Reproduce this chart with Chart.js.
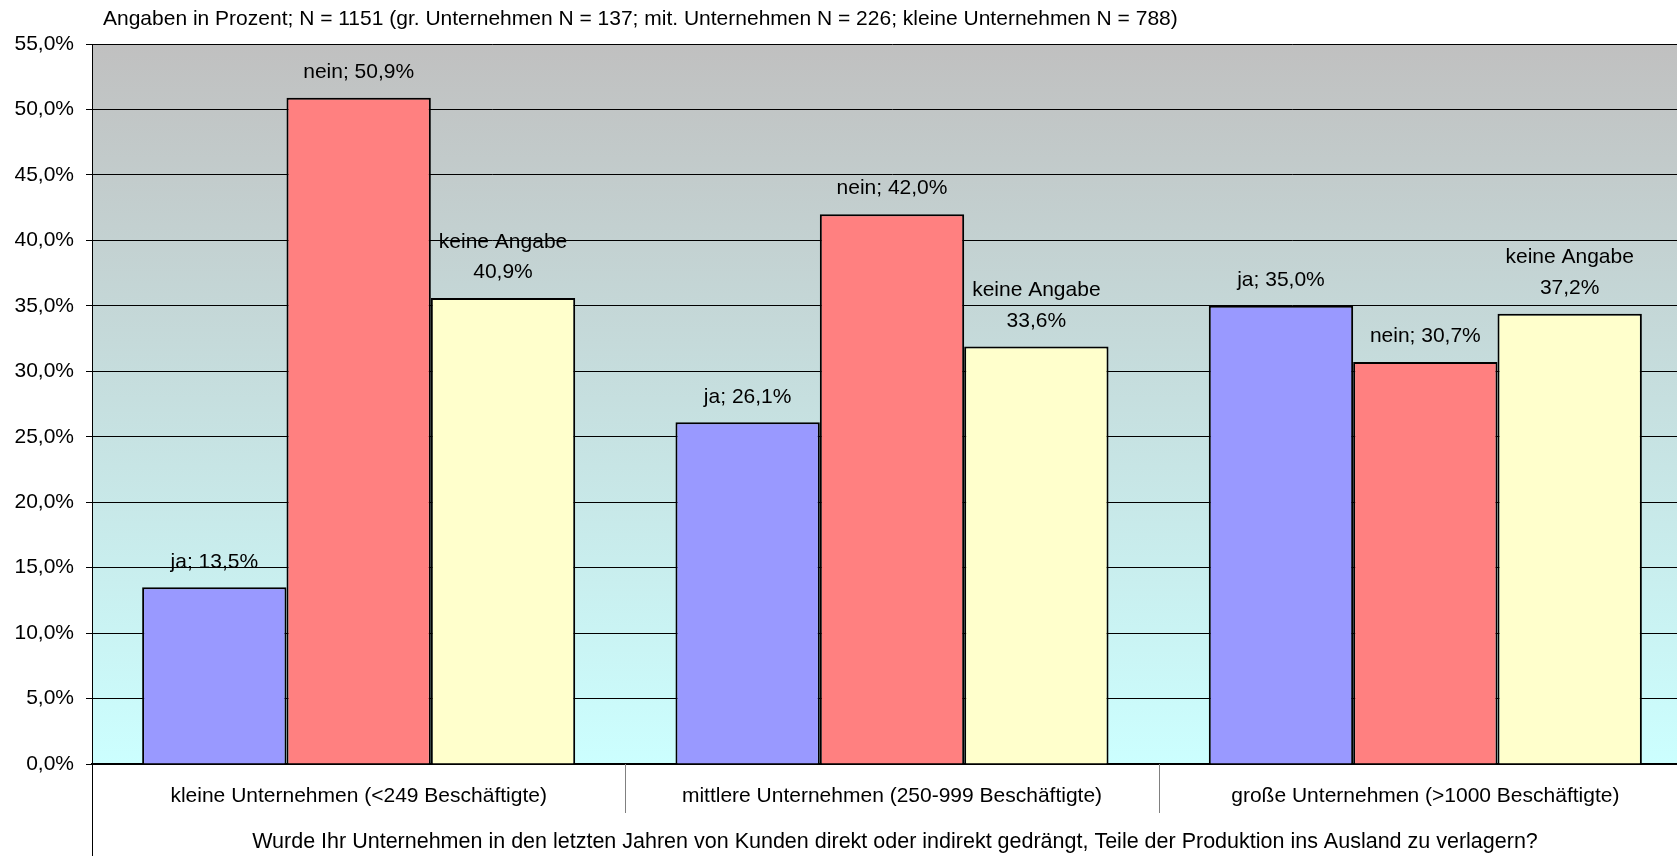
<!DOCTYPE html>
<html>
<head>
<meta charset="utf-8">
<script src="https://cdn.jsdelivr.net/npm/chart.js@4/dist/chart.umd.min.js"></script>
<style>
  html, body { margin: 0; padding: 0; background: #ffffff; overflow: hidden; width: 1677px; height: 856px; }
  canvas { display: block; }
</style>
</head>
<body>
<canvas id="c" width="1692" height="856"></canvas>
<script>
// ---- data ----
const categories = [
  'kleine Unternehmen (<249 Beschäftigte)',
  'mittlere Unternehmen (250-999 Beschäftigte)',
  'große Unternehmen (>1000 Beschäftigte)'
];
const seriesNames = ['ja', 'nein', 'keine Angabe'];
// bar heights as drawn
const jaValues = [13.5, 26.1, 35.0];
const neinValues = [50.9, 42.0, 30.7];
const keineValues = [35.6, 31.9, 34.4];
// values printed in the labels
const jaLabelValues = [13.5, 26.1, 35.0];
const neinLabelValues = [50.9, 42.0, 30.7];
const keineLabelValues = [40.9, 33.6, 37.2];
const yTicks = [0, 5, 10, 15, 20, 25, 30, 35, 40, 45, 50, 55];
const topText = 'Angaben in Prozent; N = 1151 (gr. Unternehmen N = 137; mit. Unternehmen N = 226; kleine Unternehmen N = 788)';
const xTitle = 'Wurde Ihr Unternehmen in den letzten Jahren von Kunden direkt oder indirekt gedrängt, Teile der Produktion ins Ausland zu verlagern?';

const FONT = '"Liberation Sans", Arial, sans-serif';
const fmt = v => v.toFixed(1).replace('.', ',') + '%';

const labelSets = [jaLabelValues, neinLabelValues, keineLabelValues];

const bgPlugin = {
  id: 'bg',
  beforeDraw(chart) {
    const { ctx, chartArea: a } = chart;
    ctx.save();
    const g = ctx.createLinearGradient(0, a.top, 0, a.bottom);
    g.addColorStop(0, '#C0C0C0');
    g.addColorStop(1, '#CCFFFF');
    ctx.fillStyle = g;
    ctx.fillRect(a.left, a.top, a.right - a.left, a.bottom - a.top);
    ctx.restore();
  },
  afterDraw(chart) {
    const { ctx, chartArea: a, scales } = chart;
    ctx.save();
    // top text
    ctx.fillStyle = '#000';
    ctx.font = '21px ' + FONT;
    ctx.textAlign = 'left';
    ctx.textBaseline = 'middle';
    ctx.fillText(topText, 103, 19);
    // x title
    ctx.textAlign = 'center';
    ctx.font = '21.5px ' + FONT;
    ctx.fillText(xTitle, 895, 842);
    // separators in label area
    const x = scales.x;
    ctx.strokeStyle = '#808080';
    ctx.lineWidth = 1;
    for (let i = 1; i < categories.length; i++) {
      const px = Math.round((x.getPixelForValue(i - 1) + x.getPixelForValue(i)) / 2) + 0.5;
      ctx.beginPath();
      ctx.moveTo(px, a.bottom);
      ctx.lineTo(px, a.bottom + 49);
      ctx.stroke();
    }
    // left long line
    ctx.strokeStyle = '#000';
    ctx.beginPath();
    ctx.moveTo(a.left + 0.5, a.top);
    ctx.lineTo(a.left + 0.5, chart.height);
    ctx.stroke();
    // data labels
    ctx.fillStyle = '#000';
    ctx.font = '21px ' + FONT;
    ctx.textAlign = 'center';
    ctx.textBaseline = 'middle';
    chart.data.datasets.forEach((ds, di) => {
      const meta = chart.getDatasetMeta(di);
      meta.data.forEach((bar, i) => {
        const val = fmt(labelSets[di][i]);
        if (di === 2) {
          ctx.fillText(seriesNames[di], bar.x, bar.y - 56);
          ctx.fillText(val, bar.x, bar.y - 25.5);
        } else {
          ctx.fillText(seriesNames[di] + '; ' + val, bar.x, bar.y - 25.5);
        }
      });
    });
    ctx.restore();
  }
};

new Chart(document.getElementById('c'), {
  type: 'bar',
  data: {
    labels: categories,
    datasets: [
      { label: seriesNames[0], data: jaValues, backgroundColor: '#9999FF' },
      { label: seriesNames[1], data: neinValues, backgroundColor: '#FF8080' },
      { label: seriesNames[2], data: keineValues, backgroundColor: '#FFFFCC' }
    ].map(d => Object.assign(d, { borderColor: '#000', borderWidth: 2, borderSkipped: 'bottom', categoryPercentage: 0.812, barPercentage: 1.0 }))
  },
  options: {
    responsive: false,
    animation: false,
    layout: { padding: { top: 44, right: 0, left: 0, bottom: 0 } },
    plugins: { legend: { display: false }, tooltip: { enabled: false } },
    scales: {
      x: {
        grid: { display: false, drawOnChartArea: false },
        border: { display: true, color: '#000', width: 2 },
        ticks: { color: '#000', font: { family: FONT, size: 21 }, padding: 12, maxRotation: 0, autoSkip: false },
        afterFit(s) { s.height = 92; }
      },
      y: {
        min: 0, max: 55,
        afterBuildTicks(s) { s.ticks = yTicks.map(v => ({ value: v })); },
        grid: { color: '#000', lineWidth: 1, drawTicks: true, tickLength: 6, tickColor: '#000' },
        border: { display: true, color: '#000', width: 1 },
        ticks: { color: '#000', font: { family: FONT, size: 21 }, padding: 12, callback: v => fmt(v) },
        afterFit(s) { s.width = 92; }
      }
    }
  },
  plugins: [bgPlugin]
});
</script>
</body>
</html>
